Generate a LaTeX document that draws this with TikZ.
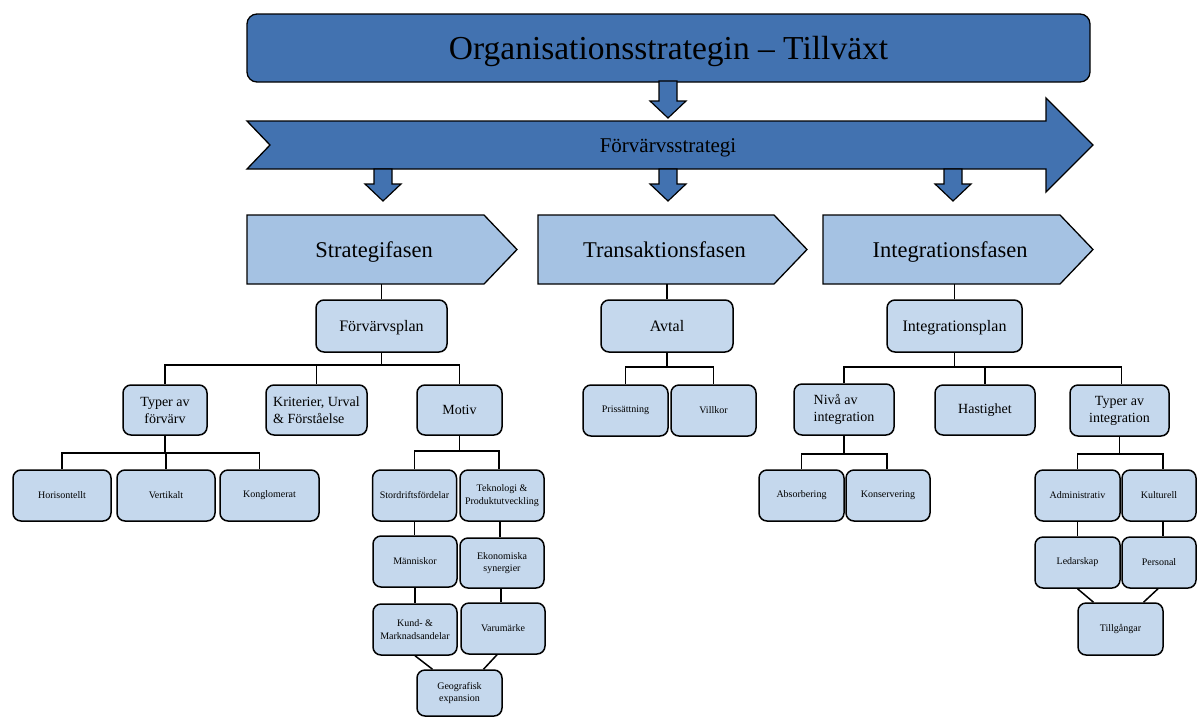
\documentclass[tikz,border=0pt]{standalone}
\usepackage{fontspec}
\setmainfont{Liberation Serif}
\usepackage{xcolor}
\usetikzlibrary{positioning,calc}

\definecolor{darkblue}{RGB}{66,114,176}
\definecolor{phaseblue}{RGB}{165,194,227}
\definecolor{boxblue}{RGB}{197,216,237}

\newcommand{\downblock}[3]{
	%shaft
	\draw[fill=darkblue, line width=1.2pt] (#1-9,#2) -- (#1+9,#2) -- (#1+9,#3-17)
	%head
	-- (#1+18,#3-17) -- (#1,#3) -- (#1-18,#3-17) -- (#1-9,#3-17) -- cycle;
}
\newcommand{\phase}[5]{
	%body and point
	\draw[fill=phaseblue, line width=1.3pt] (#1,#2) -- (#3-33,#2) -- (#3,#2+34.5) -- (#3-33,#2+69) -- (#1,#2+69) -- cycle;
	%
	\node[phasetext] (#4) at ({(#1+#3)/2-8},#2+34.5) {#5};
	\coordinate (#4 bottom) at ({(#1+#3)/2},#2+69);
}

\tikzset{
	box/.style={draw, fill=boxblue, line width=1.5pt, rounded corners=8pt, align=center, inner sep=1pt,
		minimum width=85pt, minimum height=51pt, font=\fontsize{10}{12.5}\selectfont},
	planbox/.style={box, minimum width=132pt, minimum height=52pt, text height=11.6pt, text depth=1pt,
		font=\fontsize{16}{19}\selectfont},
	midbox/.style={box, minimum height=50pt, font=\fontsize{14}{17}\selectfont},
	phasetext/.style={text height=16pt, text depth=1pt, font=\fontsize{22.5}{27}\selectfont},
	titlebox/.style={draw, fill=darkblue, line width=1.3pt, rounded corners=10pt, inner sep=0pt,
		minimum width=843pt, minimum height=68pt, text height=24pt, text depth=2pt,
		font=\fontsize{33.5}{40}\selectfont},
	link/.style={line width=1.5pt},
}

\begin{document}
\begin{tikzpicture}[x=1pt, y=-1pt]
	\useasboundingbox (0,0) rectangle (1198,718);

	\node[titlebox] (org) at (668.5,48) {Organisationsstrategin – Tillväxt};
	\downblock{668}{81}{118}

	%big arrow
	\draw[fill=darkblue, line width=1.3pt] (247,121) -- (1046,121) -- (1046,98) -- (1093,145)
		-- (1046,192) -- (1046,169) -- (247,169) -- (270,145) -- cycle;
	\node[font=\fontsize{21}{25}\selectfont, text height=15pt, text depth=1pt] (strategy) at (668,145) {Förvärvsstrategi};

	\downblock{383}{169}{201}
	\downblock{668}{169}{201}
	\downblock{953}{169}{201}

	\phase{247}{215}{517}{strat}{Strategifasen}
	\phase{538}{215}{807}{trans}{Transaktionsfasen}
	\phase{823}{215}{1093}{integ}{Integrationsfasen}

	%strategifasen
	\node[planbox, minimum width=131pt] (fplan) at (381.5,326) {Förvärvsplan};
	\node[midbox, minimum width=84pt] (typer1) at (165,410) {Typer av\\förvärv};
	\node[midbox, minimum width=101pt, align=left] (krit) at (316.5,410) {Kriterier, Urval\\\& Förståelse};
	\node[midbox] (motiv) at (459.5,410) {Motiv};

	\node[box, minimum width=98pt] (horis) at (62,495.5) {Horisontellt};
	\node[box, minimum width=98pt] (vert) at (166,495.5) {Vertikalt};
	\node[box, minimum width=99pt] (kongl) at (269.5,495.5) {Konglomerat};

	\node[box, minimum width=84pt] (stord) at (414.5,495.5) {Stordriftsfördelar};
	\node[box, minimum width=84pt] (tekno) at (502,495.5) {Teknologi \&\\Produktutveckling};
	\node[box, minimum width=84pt] (mann) at (415,561.5) {Människor};
	\node[box, minimum width=84pt, minimum height=50pt] (ekon) at (502,563) {Ekonomiska\\synergier};
	\node[box, minimum width=84pt] (kund) at (415,629.5) {Kund- \&\\Marknadsandelar};
	\node[box, minimum width=84pt] (varu) at (503,628.5) {Varumärke};
	\node[box, minimum height=46pt] (geo) at (459.5,693) {Geografisk\\expansion};

	\draw[link] (fplan.north) -- (fplan.north |- strat bottom);
	\draw[link] (fplan.south) -- ++(0,12) coordinate (fplan bus) -| (typer1.north);
	\draw[link] (fplan bus) -| (krit.north);
	\draw[link] (fplan bus) -| (motiv.north);

	\draw[link] (typer1.south) -- ++(0,17) coordinate (typer1 bus) -| (horis.north);
	\draw[link] (typer1 bus) -| (vert.north);
	\draw[link] (typer1 bus) -| ([xshift=-10pt]kongl.north);

	\draw[link] (motiv.south) -- ++(0,15) coordinate (motiv bus) -| (stord.north);
	\draw[link] (motiv bus) -| ([xshift=-3pt]tekno.north);
	\draw[link] (stord.south) -- (stord.south |- mann.north);
	\draw[link] ([xshift=-2pt]tekno.south) -- ([xshift=-2pt]tekno.south |- ekon.north);
	\draw[link] (mann.south) -- (mann.south |- kund.north);
	\draw[link] ([xshift=-1pt]ekon.south) -- ([xshift=-1pt]ekon.south |- varu.north);
	\draw[link] (kund.south) -- ([xshift=-27pt]geo.north);
	\draw[link] ([xshift=-6pt]varu.south) -- ([xshift=24pt]geo.north);

	%transaktionsfasen
	\node[planbox] (avtal) at (667,326) {Avtal};
	\node[box] (pris) at (625.5,410.5) {Prissättning};
	\node[box] (villk) at (713.5,410.5) {Villkor};

	\draw[link] (avtal.north) -- (avtal.north |- trans bottom);
	\draw[link] (avtal.south) -- ++(0,14) coordinate (avtal bus) -| (pris.north);
	\draw[link] (avtal bus) -| (villk.north);

	%integrationsfasen
	\node[planbox, minimum width=135pt] (iplan) at (954.5,326) {Integrationsplan};
	\node[midbox, minimum width=100pt, minimum height=51pt, align=left] (niva) at (844,409.5) {Nivå av\\integration};
	\node[midbox, minimum width=100pt] (hast) at (985,410) {Hastighet};
	\node[midbox, minimum width=99pt, minimum height=51pt] (typer2) at (1119.5,410.5) {Typer av\\integration};

	\node[box] (absorb) at (801.5,495.5) {Absorbering};
	\node[box, minimum width=84pt] (konserv) at (888,495.5) {Konservering};

	\node[box] (admin) at (1077.5,495.5) {Administrativ};
	\node[box, minimum width=74pt] (kult) at (1159,495.5) {Kulturell};
	\node[box] (ledar) at (1077.5,562.5) {Ledarskap};
	\node[box, minimum width=74pt] (pers) at (1159,562.5) {Personal};
	\node[box, minimum height=52pt] (tillg) at (1120.5,629) {Tillgångar};

	\draw[link] (iplan.north) -- (iplan.north |- integ bottom);
	\draw[link] (iplan.south) -- ++(0,14) coordinate (iplan bus) -| (niva.north);
	\draw[link] (iplan bus) -| (hast.north);
	\draw[link] (iplan bus) -| ([xshift=2pt]typer2.north);

	\draw[link] (niva.south) -- ++(0,18) coordinate (niva bus) -| (absorb.north);
	\draw[link] (niva bus) -| ([xshift=-1pt]konserv.north);

	\draw[link] (typer2.south) -- ++(0,17) coordinate (typer2 bus) -| (admin.north);
	\draw[link] (typer2 bus) -| ([xshift=4pt]kult.north);
	\draw[link] (admin.south) -- (admin.south |- ledar.north);
	\draw[link] ([xshift=4pt]kult.south) -- ([xshift=4pt]kult.south |- pers.north);
	\draw[link] (ledar.south) -- ([xshift=-27pt]tillg.north);
	\draw[link] ([xshift=-1pt]pers.south) -- ([xshift=23pt]tillg.north);
\end{tikzpicture}
\end{document}
